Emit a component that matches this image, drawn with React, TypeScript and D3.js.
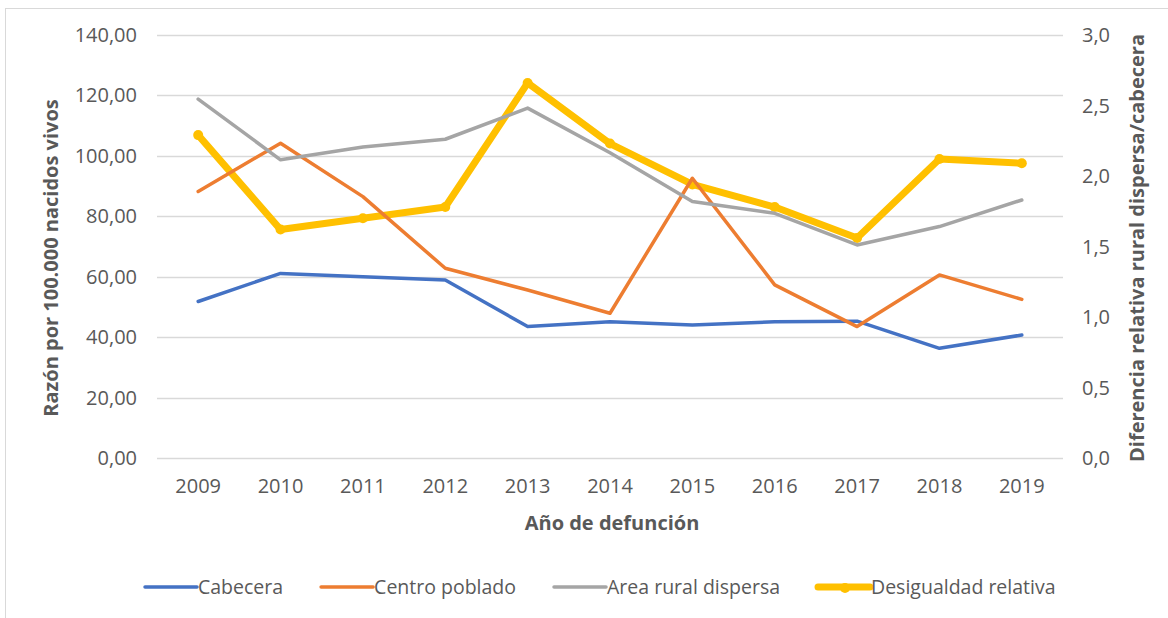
import * as d3 from 'd3';
import React, { useEffect, useRef } from 'react';

// values
const years = ['2009', '2010', '2011', '2012', '2013', '2014', '2015', '2016', '2017', '2018', '2019'];
const cabecera = [51.8, 61.1, 60.0, 58.9, 43.5, 45.1, 44.0, 45.1, 45.3, 36.3, 40.7];
const centroPoblado = [88.2, 104.2, 86.5, 62.8, 55.6, 47.9, 92.6, 57.3, 43.5, 60.6, 52.5];
const areaRural = [118.8, 98.7, 102.9, 105.5, 115.8, 101.0, 84.9, 81.0, 70.5, 76.6, 85.4];
const desigualdad = [2.29, 1.62, 1.7, 1.78, 2.66, 2.23, 1.94, 1.78, 1.56, 2.12, 2.09];

const leftTicks = [0, 20, 40, 60, 80, 100, 120, 140];
const rightTicks = [0, 0.5, 1, 1.5, 2, 2.5, 3];

const seriesNames = ['Cabecera', 'Centro poblado', 'Area rural dispersa', 'Desigualdad relativa'];
const seriesColors = ['#4472C4', '#ED7D31', '#A5A5A5', '#FFC000'];

const W = 1168;
const H = 618;
const FONT = '"Open Sans", "Liberation Sans", sans-serif';

const App = () => {
    const svgRef = useRef<SVGSVGElement | null>(null);

    useEffect(() => {
        const svg = d3.select(svgRef.current);
        svg.selectAll('*').remove();
        svg.attr('width', W).attr('height', H).attr('viewBox', [0, 0, W, H]).style('font-family', FONT);

        svg.append('rect').attr('width', W).attr('height', H).attr('fill', '#fff');
        // chart area border
        svg.append('rect')
            .attr('x', 5.5)
            .attr('y', 8.5)
            .attr('width', W + 10)
            .attr('height', H + 10)
            .attr('fill', 'none')
            .attr('stroke', '#d9d9d9');

        const left = 157;
        const right = 1063;
        const top = 35;
        const bottom = 458;

        const x = d3.scaleBand().domain(years).range([left, right]);
        const cx = (d: string) => (x(d) ?? 0) + x.bandwidth() / 2;
        const y = d3.scaleLinear().domain([0, 140]).range([bottom, top]);
        const y2 = d3.scaleLinear().domain([0, 3]).range([bottom, top]);

        const fmt2 = (v: number) => d3.format('.2f')(v).replace('.', ',');
        const fmt1 = (v: number) => d3.format('.1f')(v).replace('.', ',');

        // gridlines
        svg.append('g')
            .selectAll('line')
            .data(leftTicks)
            .join('line')
            .attr('x1', left)
            .attr('x2', right)
            .attr('y1', (d) => Math.round(y(d)) + 0.5)
            .attr('y2', (d) => Math.round(y(d)) + 0.5)
            .attr('stroke', '#d9d9d9')
            .attr('stroke-width', 1.3);

        // left axis labels
        svg.append('g')
            .selectAll('text')
            .data(leftTicks)
            .join('text')
            .attr('x', 137)
            .attr('y', (d) => y(d))
            .attr('dy', '0.35em')
            .attr('text-anchor', 'end')
            .attr('font-size', 20)
            .attr('fill', '#595959')
            .text(fmt2);

        // right axis labels
        svg.append('g')
            .selectAll('text')
            .data(rightTicks)
            .join('text')
            .attr('x', 1082)
            .attr('y', (d) => y2(d))
            .attr('dy', '0.35em')
            .attr('text-anchor', 'start')
            .attr('font-size', 20)
            .attr('fill', '#595959')
            .text(fmt1);

        // x labels
        svg.append('g')
            .selectAll('text')
            .data(years)
            .join('text')
            .attr('x', cx)
            .attr('y', 486)
            .attr('dy', '0.35em')
            .attr('text-anchor', 'middle')
            .attr('font-size', 20)
            .attr('fill', '#595959')
            .text((d) => d);

        // axis titles
        svg.append('text')
            .attr('transform', 'translate(51,258) rotate(-90)')
            .attr('dy', '0.35em')
            .attr('text-anchor', 'middle')
            .attr('font-size', 20)
            .attr('font-weight', 'bold')
            .attr('fill', '#595959')
            .text('Razón por 100.000 nacidos vivos');

        svg.append('text')
            .attr('transform', 'translate(1137,248) rotate(-90)')
            .attr('dy', '0.35em')
            .attr('text-anchor', 'middle')
            .attr('font-size', 20)
            .attr('font-weight', 'bold')
            .attr('fill', '#595959')
            .text('Diferencia relativa rural dispersa/cabecera');

        svg.append('text')
            .attr('x', 612)
            .attr('y', 523)
            .attr('dy', '0.35em')
            .attr('text-anchor', 'middle')
            .attr('font-size', 20)
            .attr('font-weight', 'bold')
            .attr('fill', '#595959')
            .text('Año de defunción');

        // lines
        const primary = [cabecera, centroPoblado, areaRural];
        const line = d3
            .line<number>()
            .x((_, i) => cx(years[i]))
            .y((d) => y(d));
        const line2 = d3
            .line<number>()
            .x((_, i) => cx(years[i]))
            .y((d) => y2(d));

        svg.append('path')
            .attr('d', line2(desigualdad))
            .attr('fill', 'none')
            .attr('stroke', seriesColors[3])
            .attr('stroke-width', 7)
            .attr('stroke-linejoin', 'round')
            .attr('stroke-linecap', 'round');
        svg.append('g')
            .selectAll('circle')
            .data(desigualdad)
            .join('circle')
            .attr('cx', (_, i) => cx(years[i]))
            .attr('cy', (d) => y2(d))
            .attr('r', 5)
            .attr('fill', seriesColors[3]);

        primary.forEach((s, k) => {
            svg.append('path')
                .attr('d', line(s))
                .attr('fill', 'none')
                .attr('stroke', seriesColors[k])
                .attr('stroke-width', 3.5)
                .attr('stroke-linejoin', 'round')
                .attr('stroke-linecap', 'round');
        });

        // legend
        const legend = svg.append('g');
        const ly = 587;
        let lx = 145;
        seriesNames.forEach((name, i) => {
            const g = legend.append('g');
            g.append('line')
                .attr('x1', lx)
                .attr('x2', lx + 52)
                .attr('y1', ly)
                .attr('y2', ly)
                .attr('stroke', seriesColors[i])
                .attr('stroke-width', i === 3 ? 7 : 3.5)
                .attr('stroke-linecap', 'round');
            if (i === 3) {
                g.append('circle')
                    .attr('cx', lx + 27)
                    .attr('cy', ly + 1)
                    .attr('r', 5)
                    .attr('fill', seriesColors[i]);
            }
            const t = g
                .append('text')
                .attr('x', lx + 53)
                .attr('y', ly)
                .attr('dy', '0.35em')
                .attr('font-size', 19.5)
                .attr('fill', '#595959')
                .text(name);
            const w = (t.node() as SVGTextElement).getComputedTextLength();
            lx += 53 + w + 38;
        });
    });

    return <svg ref={svgRef} style={{ position: 'absolute', left: 0, top: 0, display: 'block' }} />;
};

export default App;
